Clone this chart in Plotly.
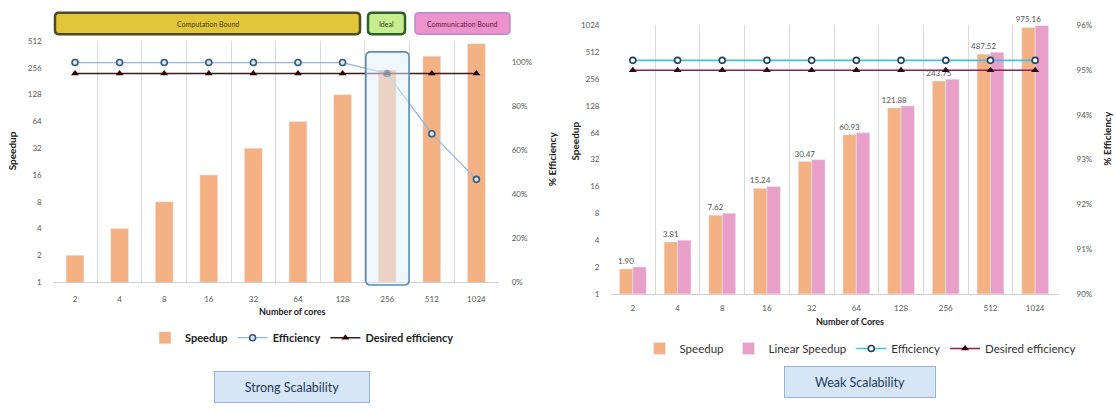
import plotly.graph_objects as go

# ---------------- data ----------------
cores = ["2", "4", "8", "16", "32", "64", "128", "256", "512", "1024"]
speedup_ticks = [1, 2, 4, 8, 16, 32, 64, 128, 256, 512]
speedup_ticks_weak = [1, 2, 4, 8, 16, 32, 64, 128, 256, 512, 1024]

strong_speedup = [2, 4, 8, 16, 32, 64, 128, 243, 346, 478]
strong_efficiency = [1.0, 1.0, 1.0, 1.0, 1.0, 1.0, 1.0, 0.95, 0.676, 0.468]
strong_desired = [0.95, 0.95, 0.95, 0.95, 0.95, 0.95, 0.95, 0.95, 0.95, 0.95]

weak_speedup = [1.90, 3.81, 7.62, 15.24, 30.47, 60.93, 121.88, 243.75, 487.52, 975.16]
weak_linear = [2, 4, 8, 16, 32, 64, 128, 256, 512, 1024]
weak_efficiency = [0.9522, 0.9522, 0.9522, 0.9522, 0.9522, 0.9522, 0.9522, 0.9522, 0.9522, 0.9522]
weak_desired = [0.95, 0.95, 0.95, 0.95, 0.95, 0.95, 0.95, 0.95, 0.95, 0.95]

# ---------------- helpers ----------------
W, H = 1116, 412
FONT = "Lato, 'Open Sans', sans-serif"
ORANGE = "#F4B183"
PINK = "#E8A0C8"


def px(x):
    return x / W


def py(y):
    return 1 - y / H


def rrect(x0, y0, x1, y1, rx, ry):
    return (f"M {x0+rx},{y0} L {x1-rx},{y0} Q {x1},{y0} {x1},{y0+ry} "
            f"L {x1},{y1-ry} Q {x1},{y1} {x1-rx},{y1} L {x0+rx},{y1} "
            f"Q {x0},{y1} {x0},{y1-ry} L {x0},{y0+ry} Q {x0},{y0} {x0+rx},{y0} Z")


xi = [i for i, _ in enumerate(cores)]

fig = go.Figure()

# ---------------- left: strong scalability ----------------
fig.add_trace(go.Bar(
    x=xi, y=strong_speedup, name="Speedup", marker_color=ORANGE,
    width=0.4, xaxis="x", yaxis="y", legend="legend"))
fig.add_trace(go.Scatter(
    x=xi, y=strong_efficiency, name="Efficiency", mode="lines+markers",
    line=dict(color="#8FB8E0", width=1.3),
    marker=dict(symbol="circle", size=6, color="#DCE6F0",
                line=dict(color="#34587E", width=1.6)),
    xaxis="x", yaxis="y2", legend="legend"))
fig.add_trace(go.Scatter(
    x=xi, y=strong_desired, name="Desired efficiency", mode="lines+markers",
    line=dict(color="#3E1A1A", width=1.6),
    marker=dict(symbol="triangle-up", size=7, color="#2A0808"),
    xaxis="x", yaxis="y2", legend="legend"))

# ---------------- right: weak scalability ----------------
fig.add_trace(go.Bar(
    x=xi, y=weak_speedup, name="Speedup", marker_color=ORANGE,
    width=0.3, offset=-0.3, xaxis="x2", yaxis="y3", legend="legend2",
    texttemplate="%{y:.2f}", textposition="outside", cliponaxis=False,
    constraintext="none", textfont=dict(size=8, color="#555555", family=FONT)))
fig.add_trace(go.Bar(
    x=xi, y=weak_linear, name="Linear Speedup", marker_color=PINK,
    width=0.3, offset=0.0, xaxis="x2", yaxis="y3", legend="legend2"))
fig.add_trace(go.Scatter(
    x=xi, y=weak_efficiency, name="Efficiency", mode="lines+markers",
    line=dict(color="#45BFDD", width=1.6),
    marker=dict(symbol="circle", size=6, color="white",
                line=dict(color="#1F3F5F", width=1.6)),
    xaxis="x2", yaxis="y4", legend="legend2"))
fig.add_trace(go.Scatter(
    x=xi, y=weak_desired, name="Desired efficiency", mode="lines+markers",
    line=dict(color="#8B2250", width=1.6),
    marker=dict(symbol="triangle-up", size=7, color="#2A0812"),
    xaxis="x2", yaxis="y4", legend="legend2"))

tickfont = dict(size=8, color="#595959", family=FONT)
grid_minor = dict(tick0=-0.5, dtick=1, showgrid=True, gridcolor="#D9D9D9",
                  gridwidth=1, ticks="")

fig.update_layout(
    width=W, height=H,
    margin=dict(l=0, r=0, t=0, b=0),
    paper_bgcolor="white", plot_bgcolor="white",
    font=dict(family=FONT, color="#222222"),
    barmode="group",
    xaxis=dict(domain=[px(52.7), px(498.7)], range=[-0.5, 9.5],
               tickvals=xi, ticktext=cores, showgrid=False, zeroline=False,
               tickfont=tickfont, ticklabelstandoff=9, anchor="y",
               minor=grid_minor, showline=True, linecolor="#CFCFCF"),
    yaxis=dict(domain=[py(284), py(37)], type="log", range=[0, 2.70927],
               tickvals=speedup_ticks, ticktext=[str(v) for v in speedup_ticks],
               showgrid=False, zeroline=False, tickfont=tickfont,
               ticklabelstandoff=10, anchor="x"),
    yaxis2=dict(overlaying="y", side="right", anchor="x", range=[0, 1.0978],
                tickvals=[0, 0.2, 0.4, 0.6, 0.8, 1.0], tickformat=".0%",
                showgrid=False, zeroline=False, tickfont=tickfont,
                ticklabelstandoff=12),
    xaxis2=dict(domain=[px(610.5), px(1057.5)], range=[-0.5, 9.5],
                tickvals=xi, ticktext=cores, showgrid=False, zeroline=False,
                tickfont=tickfont, ticklabelstandoff=7, anchor="y3",
                minor=grid_minor, showline=True, linecolor="#CFCFCF"),
    yaxis3=dict(domain=[py(296), py(21)], type="log", range=[0, 3.0103],
                tickvals=speedup_ticks_weak,
                ticktext=[str(v) for v in speedup_ticks_weak],
                showgrid=False, zeroline=False, tickfont=tickfont,
                ticklabelstandoff=10, anchor="x2"),
    yaxis4=dict(overlaying="y3", side="right", anchor="x2", range=[0.90, 0.96],
                tickvals=[0.90, 0.91, 0.92, 0.93, 0.94, 0.95, 0.96],
                tickformat=".0%", showgrid=False, zeroline=False,
                tickfont=tickfont, ticklabelstandoff=18),
    legend=dict(orientation="h", x=px(302), xanchor="center", y=py(341),
                yanchor="middle", font=dict(size=11, color="#222222",
                                            family=FONT, weight="bold"),
                bgcolor="rgba(0,0,0,0)", itemwidth=30, tracegroupgap=0),
    legend2=dict(orientation="h", x=px(860), xanchor="center", y=py(352),
                 yanchor="middle", font=dict(size=11.5, color="#333333",
                                             family=FONT),
                 bgcolor="rgba(0,0,0,0)", itemwidth=30, tracegroupgap=0),
    showlegend=True,
)

shapes = []
annotations = []


def note(text, x, y, font, **kw):
    d = dict(text=text, xref="paper", yref="paper", x=x, y=y,
             xanchor="center", yanchor="middle", showarrow=False, font=font)
    d.update(kw)
    return d


# banners above strong chart
banners = [
    ("Computation Bound", 55, 360, "#E2C63A", "#4D4A22", 2.5, "#3A3A1A"),
    ("Ideal", 368, 405, "#C6EE8E", "#2F5F2A", 2.5, "#2A3A1A"),
    ("Communication Bound", 415, 510, "#EE92CC", "#B48BD0", 1.5, "#6E0E3C"),
]
for text, x0, x1, fill, border, bw, tcol in banners:
    shapes.append(dict(type="path", xref="paper", yref="paper",
                       path=rrect(px(x0), py(30), px(x1), py(8), 4 / W, 4 / H),
                       fillcolor=fill, line=dict(color=border, width=bw),
                       layer="above"))
    annotations.append(note(text, px((x0 + x1) / 2), py(19),
                            dict(size=7, color=tcol, family=FONT)))

# highlight box around the "256" category (ideal point)
ideal_idx = cores.index("256")
shapes.append(dict(type="path", xref="x", yref="paper",
                   path=rrect(ideal_idx - 0.48, py(287), ideal_idx + 0.49, py(48),
                              5 / 44.6, 5 / H),
                   fillcolor="rgba(225,238,250,0.55)",
                   line=dict(color="#5B8DB8", width=1.6), layer="above"))

# axis titles
title_font = dict(size=10, color="#222222", family=FONT, weight="bold")
xt_font = dict(size=9, color="#222222", family=FONT, weight="bold")
annotations += [
    note("Speedup", px(12), py(150), title_font, textangle=-90),
    note("% Efficiency", px(552), py(158), title_font, textangle=-90),
    note("Number of cores", px(292), py(314), xt_font),
    note("Speedup", px(575), py(140), title_font, textangle=-90),
    note("% Efficiency", px(1107), py(137), title_font, textangle=-90),
    note("Number of Cores", px(850), py(324), xt_font),
]

# scalability "buttons"
for text, cx, cy, w in [("Strong Scalability", 292, 391, 152),
                        ("Weak Scalability", 860, 386, 148)]:
    annotations.append(note(text, px(cx), py(cy),
                            dict(size=12.5, color="#1F3B5C", family=FONT),
                            width=w, height=28, bgcolor="#D7E6F6",
                            bordercolor="#95B3D7", borderwidth=1, borderpad=1))

fig.update_layout(shapes=shapes, annotations=annotations)

fig.write_html("out.html")
